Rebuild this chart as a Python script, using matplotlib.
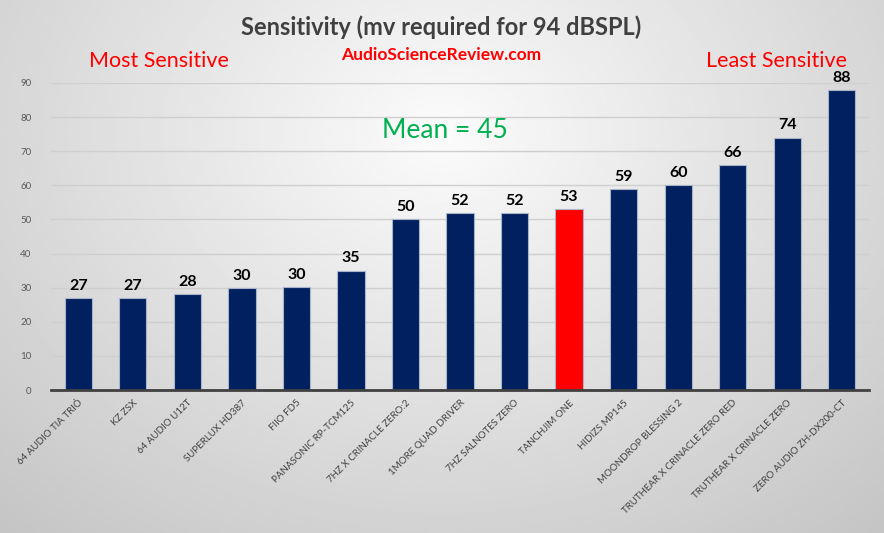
import matplotlib.pyplot as plt
import numpy as np

names = ["64 AUDIO TIA TRIÓ", "KZ ZSX", "64 AUDIO U12T", "SUPERLUX HD387", "FIIO FD5",
         "PANASONIC RP-TCM125", "7HZ X CRINACLE ZERO:2", "1MORE QUAD DRIVER",
         "7HZ SALNOTES ZERO", "TANCHJIM ONE", "HIDIZS MP145", "MOONDROP BLESSING 2",
         "TRUTHEAR X CRINACLE ZERO RED", "TRUTHEAR X CRINACLE ZERO", "ZERO AUDIO ZH-DX200-CT"]
values = [27, 27, 28, 30, 30.3, 35, 50, 52, 52, 53, 59, 60, 66, 74, 88]
labels = ["27", "27", "28", "30", "30", "35", "50", "52", "52", "53", "59", "60", "66", "74", "88"]
highlight = "TANCHJIM ONE"
mean_value = 45

plt.rcParams['font.family'] = ['Lato', 'DejaVu Sans']

fig = plt.figure(figsize=(8.84, 5.33), dpi=100)

# radial grey background, light near the top centre
bg = fig.add_axes([0, 0, 1, 1], zorder=-10)
yy, xx = np.mgrid[1:0:300j, 0:1:300j]
r = np.sqrt(((xx - 0.5) * 1.0) ** 2 + ((yy - 0.75) * 0.75) ** 2) / 0.7
grad = 0.985 - 0.2 * np.clip(r, 0, 1.2)
bg.imshow(grad, cmap='gray', vmin=0, vmax=1, aspect='auto', extent=[0, 1, 0, 1])
bg.axis('off')

ax = fig.add_axes([51 / 884, 143 / 533, 818 / 884, 307 / 533])
ax.set_facecolor('none')

x = np.arange(len(names))
colors = ['#ff0000' if n == highlight else '#002060' for n in names]
ax.bar(x, values, width=0.5, color=colors, edgecolor='#a9b4c8', linewidth=0.8, zorder=3)
for xi, v, lab in zip(x, values, labels):
    ax.text(xi, v + 1.5, lab, ha='center', va='bottom', fontsize=11.5, fontweight='bold', color='black')

ax.set_ylim(0, 90)
ax.set_xlim(-0.5, len(names) - 0.5)
ax.set_yticks(range(0, 91, 10))
ax.yaxis.grid(True, color='#cfcfcf', linewidth=1, zorder=0)
ax.tick_params(axis='y', length=0, labelsize=7, labelcolor='#595959', pad=14)
ax.tick_params(axis='x', length=0, pad=6)
ax.set_xticks(x)
ax.set_xticklabels(names, rotation=45, ha='right', rotation_mode='anchor', fontsize=7, color='#404040')
for s in ['top', 'right', 'left']:
    ax.spines[s].set_visible(False)
ax.spines['bottom'].set_color('#404040')
ax.spines['bottom'].set_linewidth(2)
ax.spines['bottom'].set_zorder(4)

fig.text(441 / 884, 1 - 27 / 533, "Sensitivity (mv required for 94 dBSPL)", ha='center', va='center',
         fontsize=17, fontweight='bold', color='#404040')
fig.text(441 / 884, 1 - 55 / 533, "AudioScienceReview.com", ha='center', va='center',
         fontsize=12.5, fontweight='bold', color='#ff0000')
fig.text(159 / 884, 1 - 61 / 533, "Most Sensitive", ha='center', va='center', fontsize=15.5, color='#ff0000')
fig.text(776 / 884, 1 - 61 / 533, "Least Sensitive", ha='center', va='center', fontsize=15.5, color='#ff0000')
fig.text(445 / 884, 1 - 130 / 533, "Mean = %d" % mean_value, ha='center', va='center',
         fontsize=19, color='#00b050')

fig.savefig('out.png', dpi=100)
